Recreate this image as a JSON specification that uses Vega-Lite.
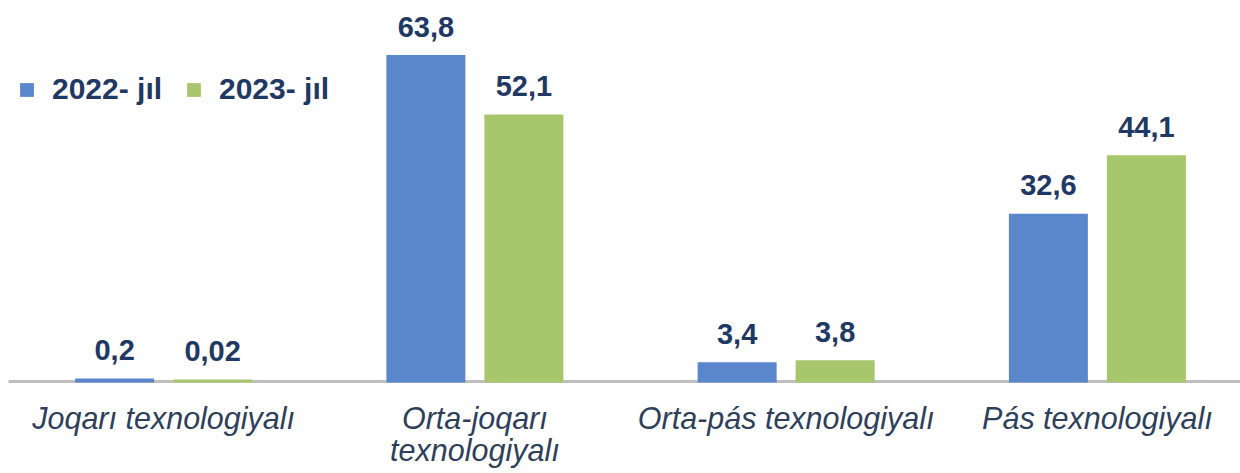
{
  "$schema": "https://vega.github.io/schema/vega-lite/v6.json",
  "width": 1245,
  "height": 356,
  "autosize": {"type": "none"},
  "padding": {"left": 8, "top": 25, "right": 0, "bottom": 92},
  "background": "white",
  "config": {"view": {"stroke": null}, "font": "Liberation Sans"},
  "data": {
    "values": [
      {"cat": "Joqarı texnologiyalı", "year": "2022- jıl", "value": 0.2, "label": "0,2"},
      {"cat": "Joqarı texnologiyalı", "year": "2023- jıl", "value": 0.02, "label": "0,02"},
      {"cat": "Orta-joqarı texnologiyalı", "year": "2022- jıl", "value": 63.8, "label": "63,8"},
      {"cat": "Orta-joqarı texnologiyalı", "year": "2023- jıl", "value": 52.1, "label": "52,1"},
      {"cat": "Orta-pás texnologiyalı", "year": "2022- jıl", "value": 3.4, "label": "3,4"},
      {"cat": "Orta-pás texnologiyalı", "year": "2023- jıl", "value": 3.8, "label": "3,8"},
      {"cat": "Pás texnologiyalı", "year": "2022- jıl", "value": 32.6, "label": "32,6"},
      {"cat": "Pás texnologiyalı", "year": "2023- jıl", "value": 44.1, "label": "44,1"}
    ]
  },
  "encoding": {
    "x": {
      "field": "cat", "type": "nominal", "sort": null, "title": null,
      "scale": {"paddingInner": 0.441, "paddingOuter": 0.2205},
      "axis": {
        "domainColor": "#BFBFBF", "domainWidth": 3, "ticks": false, "tickSize": 0,
        "labelAngle": 0, "labelFont": "Liberation Sans", "labelFontSize": 30.5,
        "labelFontStyle": "italic", "labelColor": "#2E3F5C", "labelPadding": 23,
        "labelLineHeight": 32, "labelBaseline": "top", "labelLimit": 400,
        "labelExpr": "datum.value == 'Orta-joqarı texnologiyalı' ? ['Orta-joqarı', 'texnologiyalı'] : datum.value"
      }
    },
    "xOffset": {"field": "year", "type": "nominal", "scale": {"paddingInner": 0.2245, "paddingOuter": 0}},
    "y": {"field": "value", "type": "quantitative", "scale": {"domain": [0, 70]}, "axis": null}
  },
  "layer": [
    {
      "mark": {"type": "bar", "strokeWidth": 3},
      "encoding": {
        "color": {
          "field": "year", "type": "nominal", "title": null,
          "scale": {"domain": ["2022- jıl", "2023- jıl"], "range": ["#5A86CC", "#A8C66C"]},
          "legend": {
            "orient": "none", "legendX": 4, "legendY": 50, "direction": "horizontal",
            "symbolType": "square", "symbolSize": 190, "symbolStrokeWidth": 0,
            "labelFont": "Liberation Sans", "labelFontSize": 30, "labelFontWeight": "bold",
            "labelColor": "#1F3864", "labelOffset": 10, "columnPadding": 16
          }
        },
        "stroke": {
          "field": "year", "type": "nominal",
          "scale": {"domain": ["2022- jıl", "2023- jıl"], "range": ["#5A86CC", "#A8C66C"]},
          "legend": null
        }
      }
    },
    {
      "mark": {"type": "text", "baseline": "alphabetic", "dy": -20, "font": "Liberation Sans", "fontSize": 29, "fontWeight": "bold", "color": "#1F3864"},
      "encoding": {"text": {"field": "label"}}
    }
  ]
}
